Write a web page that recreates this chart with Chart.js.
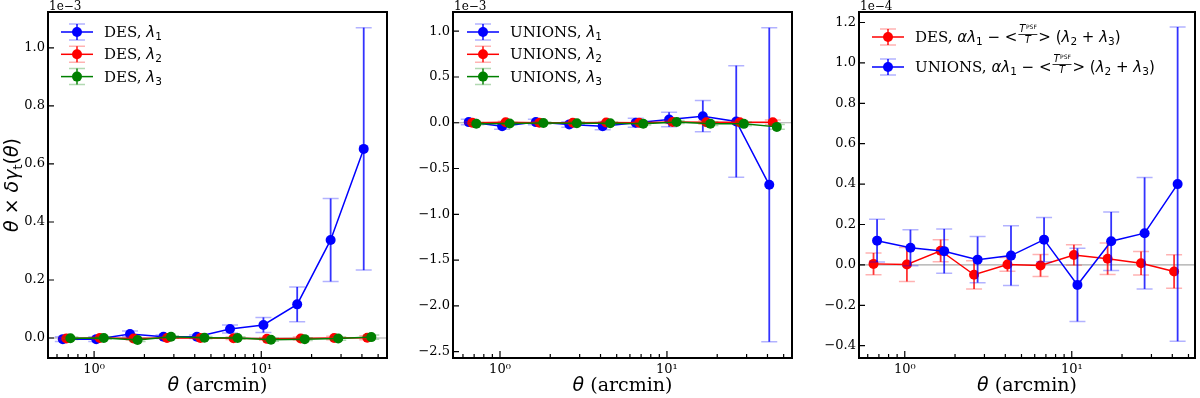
<!DOCTYPE html>
<html>
<head>
    <title>Tangential PSF leakage</title>
    <script src="https://cdn.jsdelivr.net/npm/chart.js@4/dist/chart.umd.min.js"></script>
    <style>
        body { margin: 0; background: #fff; overflow: hidden; }
        #wrap { position: relative; width: 1200px; height: 398px; }
        .panel { position: absolute; top: 0; width: 400px; height: 398px; }
    </style>
</head>
<body>
    <div id="wrap">
        <div class="panel" style="left:0"><canvas id="pDES"></canvas></div>
        <div class="panel" style="left:400px"><canvas id="pUNIONS"></canvas></div>
        <div class="panel" style="left:800px"><canvas id="pCombo"></canvas></div>
    </div>

    <script>
        // angular bins (arcmin); each series is nudged right a little so the points don't overlap
        const theta = [0.65, 1.03, 1.64, 2.6, 4.12, 6.5, 10.3, 16.4, 26, 41];
        const shift = [1, 1.05, 1.11];

        // left panel, DES (units of 1e-3)
        const desL1 = [-0.004, -0.004, 0.014, 0.004, 0.004, 0.031, 0.045, 0.116, 0.338, 0.652];
        const desL1Err = [0.008, 0.008, 0.010, 0.006, 0.006, 0.014, 0.026, 0.060, 0.143, 0.418];
        const desL2 = [-0.002, 0.0, -0.002, 0.0, 0.0, -0.001, -0.003, -0.002, 0.0, 0.001];
        const desL2Err = [0.004, 0.004, 0.005, 0.004, 0.004, 0.004, 0.005, 0.005, 0.006, 0.007];
        const desL3 = [-0.001, 0.0, -0.007, 0.004, 0.001, 0.0, -0.006, -0.004, -0.002, 0.003];
        const desL3Err = [0.004, 0.004, 0.005, 0.004, 0.004, 0.004, 0.005, 0.005, 0.006, 0.007];

        // middle panel, UNIONS (units of 1e-3)
        const uniL1 = [0.007, -0.037, 0.007, -0.018, -0.037, 0.0, 0.036, 0.072, 0.014, -0.678];
        const uniL1Err = [0.03, 0.035, 0.03, 0.03, 0.04, 0.05, 0.08, 0.171, 0.61, 1.715];
        const uniL2 = [0.0, 0.005, 0.0, 0.0, 0.002, 0.0, 0.008, 0.005, 0.005, 0.005];
        const uniL2Err = [0.012, 0.012, 0.012, 0.012, 0.012, 0.014, 0.016, 0.02, 0.02, 0.025];
        const uniL3 = [-0.01, -0.008, -0.003, -0.005, -0.005, -0.01, 0.008, -0.01, -0.012, -0.045];
        const uniL3Err = [0.012, 0.012, 0.012, 0.012, 0.012, 0.014, 0.016, 0.02, 0.02, 0.025];

        // right panel, combination (units of 1e-4)
        const desCombo = [0.005, 0.002, 0.07, -0.049, 0.002, -0.003, 0.049, 0.03, 0.008, -0.033];
        const desComboErr = [0.054, 0.084, 0.055, 0.07, 0.034, 0.055, 0.051, 0.078, 0.058, 0.083];
        const uniCombo = [0.12, 0.085, 0.068, 0.026, 0.046, 0.125, -0.099, 0.117, 0.157, 0.40];
        const uniComboErr = [0.106, 0.089, 0.11, 0.114, 0.148, 0.11, 0.181, 0.145, 0.276, 0.778];

        // tick labels
        const xMajor = [1, 10];
        const xMajorLabels = ['10⁰', '10¹'];
        const yTicksDES = [0, 0.2, 0.4, 0.6, 0.8, 1.0];
        const yTicksUNIONS = [-2.5, -2.0, -1.5, -1.0, -0.5, 0, 0.5, 1.0];
        const yTicksCombo = [-0.4, -0.2, 0, 0.2, 0.4, 0.6, 0.8, 1.0, 1.2];

        const BLUE = '#0000ff', RED = '#ff0000', GREEN = '#008000';
        const serif = '"DejaVu Serif", serif';
        const sans = '"DejaVu Sans", sans-serif';
        const S15 = '15px ' + serif, I15 = 'italic 15px ' + sans, R15 = '15px ' + sans, SUB = '10.5px ' + sans;

        function rgba(hex, a) {
            const n = parseInt(hex.slice(1), 16);
            return `rgba(${n >> 16},${(n >> 8) & 255},${n & 255},${a})`;
        }

        // mixed-font text helpers
        function fracWidth(ctx) {
            ctx.font = 'italic 10px ' + sans;
            const t = ctx.measureText('T').width;
            ctx.font = '6px ' + sans;
            return t + ctx.measureText('PSF').width + 4;
        }
        function richWidth(ctx, parts) {
            let w = 0;
            parts.forEach(p => {
                if (p.frac) { w += fracWidth(ctx); return; }
                ctx.font = p.f;
                w += ctx.measureText(p.t).width;
            });
            return w;
        }
        function drawRich(ctx, x, y, parts) {
            parts.forEach(p => {
                if (p.frac) {
                    const w = fracWidth(ctx);
                    ctx.font = 'italic 10px ' + sans;
                    const tw = ctx.measureText('T').width;
                    ctx.fillText('T', x + 2, y - 10);
                    ctx.font = '6px ' + sans;
                    ctx.fillText('PSF', x + 2 + tw + 0.5, y - 13);
                    ctx.font = 'italic 10px ' + sans;
                    ctx.fillText('T', x + (w - tw) / 2, y + 1);
                    ctx.fillRect(x + 1, y - 8, w - 2, 0.8);
                    x += w;
                    return;
                }
                ctx.font = p.f;
                ctx.fillText(p.t, x, y + (p.dy || 0));
                x += ctx.measureText(p.t).width;
            });
        }
        function lamParts(name, n) {
            return [{ t: name + ', ', f: S15 }, { t: 'λ', f: I15 }, { t: String(n), f: SUB, dy: 3 }];
        }
        function comboParts(name) {
            return [
                { t: name + ', ', f: S15 }, { t: 'αλ', f: I15 }, { t: '1', f: SUB, dy: 3 },
                { t: ' − <', f: R15 }, { frac: true }, { t: '> (', f: R15 },
                { t: 'λ', f: I15 }, { t: '2', f: SUB, dy: 3 }, { t: ' + ', f: R15 },
                { t: 'λ', f: I15 }, { t: '3', f: SUB, dy: 3 }, { t: ')', f: R15 }
            ];
        }

        // per panel decoration settings (legend handle offset from the left axis)
        const panelCfg = {
            pDES: {
                offset: '1e−3', yLabel: true, legendX: 13, legendY: 32, rowGap: 22.3,
                legend: [[BLUE, lamParts('DES', 1)], [RED, lamParts('DES', 2)], [GREEN, lamParts('DES', 3)]]
            },
            pUNIONS: {
                offset: '1e−3', yLabel: false, legendX: 14, legendY: 32, rowGap: 22.3,
                legend: [[BLUE, lamParts('UNIONS', 1)], [RED, lamParts('UNIONS', 2)], [GREEN, lamParts('UNIONS', 3)]]
            },
            pCombo: {
                offset: '1e−4', yLabel: false, legendX: 13, legendY: 37, rowGap: 30,
                legend: [[RED, comboParts('DES')], [BLUE, comboParts('UNIONS')]]
            }
        };

        function drawErrorMark(ctx, x, yTop, yBot, color) {
            ctx.strokeStyle = rgba(color, 0.8);
            ctx.lineWidth = 1.8;
            ctx.beginPath(); ctx.moveTo(x, yTop); ctx.lineTo(x, yBot); ctx.stroke();
            ctx.strokeStyle = rgba(color, 0.3);
            ctx.lineWidth = 1.5;
            ctx.beginPath();
            ctx.moveTo(x - 8, yTop); ctx.lineTo(x + 8, yTop);
            ctx.moveTo(x - 8, yBot); ctx.lineTo(x + 8, yBot);
            ctx.stroke();
        }

        const deco = {
            id: 'deco',
            beforeDatasetsDraw(chart) {
                const { ctx, chartArea: a, scales: { y } } = chart;
                const y0 = y.getPixelForValue(0);
                ctx.save();
                ctx.strokeStyle = '#a8a8a8';
                ctx.lineWidth = 1.2;
                ctx.beginPath(); ctx.moveTo(a.left, y0); ctx.lineTo(a.right, y0); ctx.stroke();
                ctx.restore();
            },
            beforeDatasetDraw(chart, args) {
                const ds = chart.data.datasets[args.index];
                if (!ds.errors) return;
                const { ctx, scales: { x, y } } = chart;
                ctx.save();
                ds.data.forEach((p, i) => {
                    const px = x.getPixelForValue(p.x);
                    drawErrorMark(ctx, px, y.getPixelForValue(p.y + ds.errors[i]),
                        y.getPixelForValue(p.y - ds.errors[i]), ds.borderColor);
                });
                ctx.restore();
            },
            afterDraw(chart) {
                const cfg = panelCfg[chart.canvas.id];
                const { ctx, chartArea: a, scales: { x, y } } = chart;
                ctx.save();
                ctx.fillStyle = '#000';
                ctx.strokeStyle = '#000';

                // inward ticks
                ctx.lineWidth = 1.2;
                ctx.beginPath();
                y.ticks.forEach(t => {
                    const py = y.getPixelForValue(t.value);
                    ctx.moveTo(a.left, py); ctx.lineTo(a.left + 6, py);
                });
                x.ticks.forEach(t => {
                    const px = x.getPixelForValue(t.value);
                    const len = xMajor.includes(t.value) ? 7 : 4;
                    ctx.moveTo(px, a.bottom); ctx.lineTo(px, a.bottom - len);
                });
                ctx.stroke();

                // frame
                ctx.lineWidth = 2;
                ctx.strokeRect(a.left, a.top, a.right - a.left, a.bottom - a.top);

                // offset text
                ctx.textBaseline = 'alphabetic';
                ctx.font = '12px ' + serif;
                ctx.fillText(cfg.offset, a.left + 1, 10);

                // x label
                const xl = [{ t: 'θ', f: 'italic 19px ' + sans }, { t: ' (arcmin)', f: '19px ' + serif }];
                const xw = richWidth(ctx, xl);
                drawRich(ctx, (a.left + a.right) / 2 - xw / 2, 391, xl);

                // y label
                if (cfg.yLabel) {
                    const yl = [
                        { t: 'θ', f: 'italic 19px ' + sans }, { t: ' × ', f: '19px ' + sans },
                        { t: 'δγ', f: 'italic 19px ' + sans }, { t: 't', f: '13px ' + sans, dy: 4 },
                        { t: '(', f: '19px ' + sans }, { t: 'θ', f: 'italic 19px ' + sans }, { t: ')', f: '19px ' + sans }
                    ];
                    const yw = richWidth(ctx, yl);
                    ctx.save();
                    ctx.translate(18, (a.top + a.bottom) / 2);
                    ctx.rotate(-Math.PI / 2);
                    drawRich(ctx, -yw / 2, 0, yl);
                    ctx.restore();
                }

                // legend
                cfg.legend.forEach((entry, i) => {
                    const [color, parts] = entry;
                    const cy = cfg.legendY + i * cfg.rowGap;
                    const hx = a.left + cfg.legendX;
                    const cx = hx + 16;
                    drawErrorMark(ctx, cx, cy - 8, cy + 8, color);
                    ctx.strokeStyle = color;
                    ctx.lineWidth = 1.5;
                    ctx.beginPath(); ctx.moveTo(hx, cy); ctx.lineTo(hx + 32, cy); ctx.stroke();
                    ctx.fillStyle = color;
                    ctx.beginPath(); ctx.arc(cx, cy, 5, 0, Math.PI * 2); ctx.fill();
                    ctx.fillStyle = '#000';
                    drawRich(ctx, hx + 43, cy + 5, parts);
                });
                ctx.restore();
            }
        };

        function series(vals, errs, color, k) {
            return {
                data: vals.map((v, i) => ({ x: theta[i] * shift[k], y: v })),
                errors: errs,
                borderColor: color,
                backgroundColor: color,
                pointBackgroundColor: color,
                pointBorderWidth: 0,
                pointRadius: 5,
                borderWidth: 1.5,
                tension: 0,
                fill: false,
                order: -k
            };
        }

        function makePanel(id, datasets, xMin, xMax, yMin, yMax, yTicks, yWidth, rightPad) {
            return new Chart(document.getElementById(id), {
                type: 'line',
                data: { datasets: datasets },
                plugins: [deco],
                options: {
                    responsive: true,
                    maintainAspectRatio: false,
                    animation: false,
                    layout: { padding: { left: 0, right: rightPad, top: 12, bottom: 0 } },
                    plugins: { legend: { display: false }, tooltip: { enabled: false } },
                    scales: {
                        x: {
                            type: 'logarithmic',
                            min: xMin,
                            max: xMax,
                            grid: { display: false, drawTicks: false },
                            border: { display: false },
                            afterBuildTicks: scale => {
                                const list = [];
                                [0.1, 1, 10].forEach(d => {
                                    for (let k = 1; k <= 9; k++) {
                                        const v = +(k * d).toPrecision(3);
                                        if (v >= xMin && v <= xMax) list.push({ value: v });
                                    }
                                });
                                scale.ticks = list;
                            },
                            afterFit: scale => { scale.height = 40; },
                            ticks: {
                                autoSkip: false,
                                maxRotation: 0,
                                padding: 4,
                                color: '#000',
                                font: { family: 'DejaVu Serif', size: 13 },
                                callback: v => {
                                    const j = xMajor.indexOf(v);
                                    return j >= 0 ? xMajorLabels[j] : '';
                                }
                            }
                        },
                        y: {
                            min: yMin,
                            max: yMax,
                            grid: { display: false, drawTicks: false },
                            border: { display: false },
                            afterBuildTicks: scale => { scale.ticks = yTicks.map(v => ({ value: v })); },
                            afterFit: scale => { scale.width = yWidth; },
                            ticks: {
                                padding: 3,
                                color: '#000',
                                font: { family: 'DejaVu Serif', size: 13 },
                                callback: v => v.toFixed(1).replace('-', '−')
                            }
                        }
                    }
                }
            });
        }

        makePanel('pDES', [
            series(desL1, desL1Err, BLUE, 0),
            series(desL2, desL2Err, RED, 1),
            series(desL3, desL3Err, GREEN, 2)
        ], 0.53, 56.5, -0.069, 1.124, yTicksDES, 48, 13);

        makePanel('pUNIONS', [
            series(uniL1, uniL1Err, BLUE, 0),
            series(uniL2, uniL2Err, RED, 1),
            series(uniL3, uniL3Err, GREEN, 2)
        ], 0.523, 56.1, -2.57, 1.21, yTicksUNIONS, 53, 8);

        makePanel('pCombo', [
            series(desCombo, desComboErr, RED, 0),
            series(uniCombo, uniComboErr, BLUE, 1)
        ], 0.532, 54.7, -0.461, 1.252, yTicksCombo, 59, 3);
    </script>
</body>
</html>
